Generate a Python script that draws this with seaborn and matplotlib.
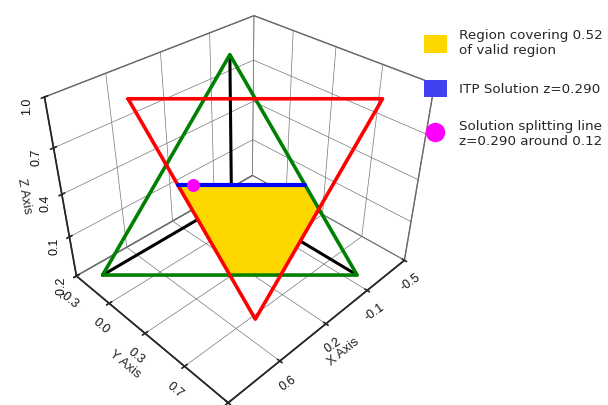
import numpy as np
import matplotlib
matplotlib.use("Agg")
import matplotlib.pyplot as plt
import seaborn as sns
from matplotlib.patches import Patch
from matplotlib.lines import Line2D
from mpl_toolkits.mplot3d.art3d import Poly3DCollection

sns.set_theme(style="white")
plt.rcParams['font.family'] = ['DejaVu Sans']

# simplex x+y+z=1 (green) and its corners
simplex_x = [1.0, 0.0, 0.0]
simplex_y = [0.0, 1.0, 0.0]
simplex_z = [0.0, 0.0, 1.0]

# bounding triangle x<=0.5, y<=0.7, z<=0.8 (red)
bound_x = [0.5, -0.5, 0.5]
bound_y = [-0.3, 0.7, 0.7]
bound_z = [0.8, 0.8, -0.2]

# region covered (yellow)
region_x = [0.5, 0.0, 0.0, 0.3, 0.5]
region_y = [0.09, 0.59, 0.7, 0.7, 0.5]
region_z = [0.41, 0.41, 0.3, 0.0, 0.0]

# ITP solution line (blue) and splitting point (magenta)
sol_x = [0.5, 0.0]
sol_y = [0.09, 0.59]
sol_z = [0.41, 0.41]
split_x = [0.44]
split_y = [0.15]
split_z = [0.41]

x_ticks = [-0.5, -0.125, 0.25, 0.625, 1.0]
x_labels = ['-0.5', '-0.1', '0.2', '0.6', '1.0']
y_ticks = [-0.3, 0.025, 0.35, 0.675, 1.0]
y_labels = ['-0.3', '0.0', '0.3', '0.7', '1.0']
z_ticks = [-0.2, 0.1, 0.4, 0.7, 1.0]
z_labels = ['-0.2', '0.1', '0.4', '0.7', '1.0']

tick_font = ['Liberation Sans Narrow', 'Liberation Sans', 'DejaVu Sans']

fig = plt.figure(figsize=(6.08, 4.05), dpi=100)
ax = fig.add_axes([-0.042, -0.088, 0.86, 1.22], projection='3d', computed_zorder=False)
ax.set_proj_type('persp', focal_length=0.27)
ax.view_init(elev=35.26, azim=45)
ax.set_xlim(-0.5, 1.0)
ax.set_ylim(-0.3, 1.0)
ax.set_zlim(-0.2, 1.0)
ax.set_box_aspect((1.5, 1.3, 1.2), zoom=0.82)

# axes from origin to simplex corners
for i in range(3):
    ax.plot([0, simplex_x[i]], [0, simplex_y[i]], [0, simplex_z[i]],
            color='black', lw=2.2, zorder=1)

poly = Poly3DCollection([list(zip(region_x, region_y, region_z))],
                        facecolor='#ffd700', edgecolor='none', zorder=2)
ax.add_collection3d(poly)

ax.plot(simplex_x + simplex_x[:1], simplex_y + simplex_y[:1], simplex_z + simplex_z[:1],
        color='green', lw=2.6, zorder=3)
ax.plot(bound_x + bound_x[:1], bound_y + bound_y[:1], bound_z + bound_z[:1],
        color='red', lw=2.6, zorder=4)
ax.plot(sol_x, sol_y, sol_z, color='blue', lw=3, zorder=5)
ax.scatter(split_x, split_y, split_z, color='magenta', s=70, depthshade=False, zorder=6)

ax.set_xticks(x_ticks)
ax.set_xticklabels(x_labels, fontfamily=tick_font, rotation=35)
ax.set_yticks(y_ticks)
ax.set_yticklabels(y_labels, fontfamily=tick_font, rotation=-40)
ax.set_zticks(z_ticks)
ax.set_zticklabels(z_labels, fontfamily=tick_font, rotation=90)
ax.tick_params(labelsize=9, pad=0, labelcolor='#111111')
ax.set_xlabel('X Axis', fontsize=9.5, labelpad=-2, fontfamily=tick_font, rotation=35)
ax.set_ylabel('Y Axis', fontsize=9.5, labelpad=-2, fontfamily=tick_font, rotation=-40)
ax.set_zlabel('Z Axis', fontsize=9.5, labelpad=-2, fontfamily=tick_font, rotation=90)

for axis in (ax.xaxis, ax.yaxis, ax.zaxis):
    axis.set_pane_color((1, 1, 1, 1))
    axis.pane.set_edgecolor('#555555')
    axis._axinfo['grid']['color'] = '#777777'
    axis._axinfo['grid']['linewidth'] = 0.5
    axis._axinfo['axisline']['color'] = '#555555'
    axis._axinfo['tick']['color'] = '#777777'
    axis._axinfo['tick']['inward_factor'] = 0.15
    axis._axinfo['tick']['outward_factor'] = 0.15

handles = [
    Patch(facecolor='#ffd700', edgecolor='none'),
    Patch(facecolor='#4040f0', edgecolor='none'),
    Line2D([], [], marker='o', color='none', markerfacecolor='magenta',
           markeredgecolor='none', markersize=14),
]
labels = ['Region covering 0.52\nof valid region', 'ITP Solution z=0.290',
          'Solution splitting line\nz=0.290 around 0.12']
fig.legend(handles, labels, loc='upper left', bbox_to_anchor=(0.678, 0.9575),
           frameon=False, fontsize=9.7, handlelength=1.65, handleheight=1.65,
           labelspacing=1.65, handletextpad=0.95)

fig.savefig('out.png', dpi=100)
